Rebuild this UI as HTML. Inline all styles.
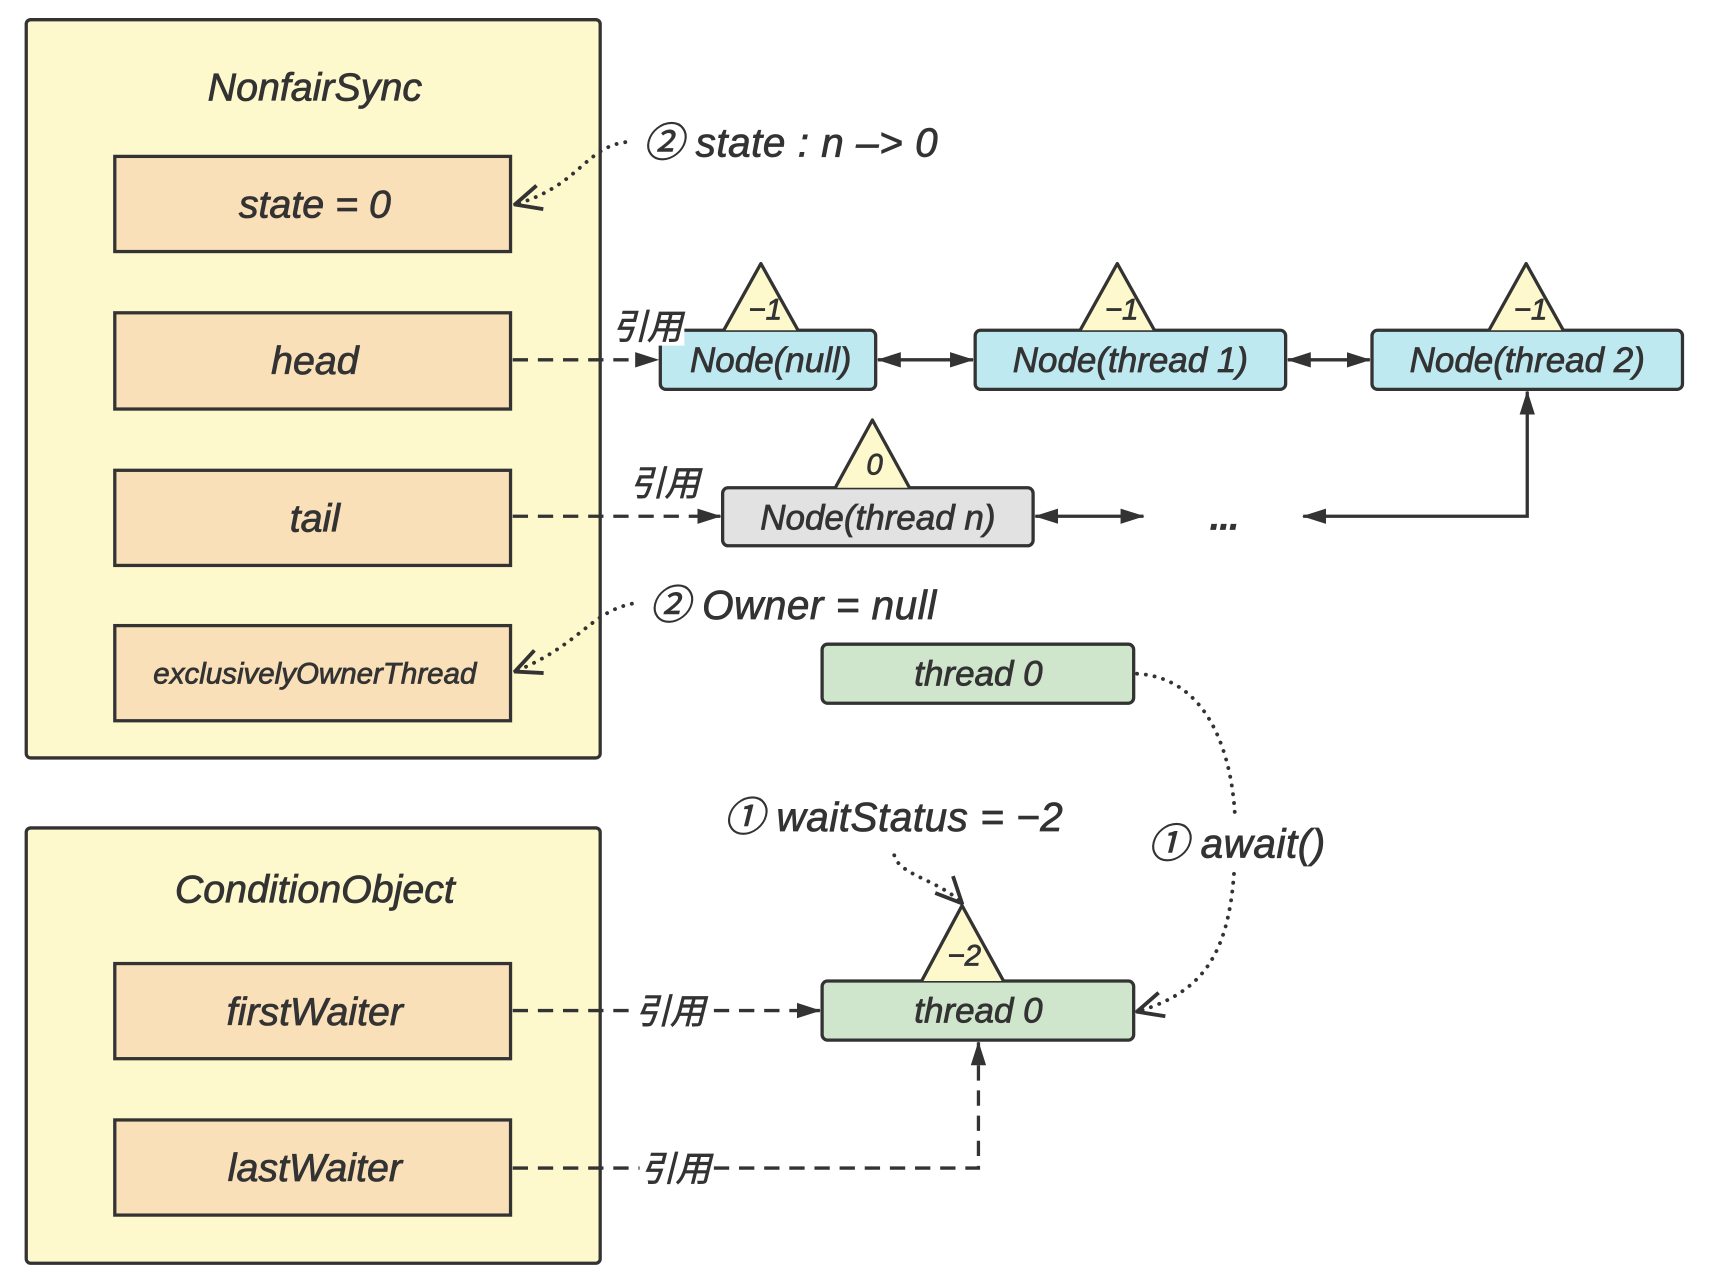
<!DOCTYPE html>
<html><head><meta charset="utf-8"><style>
html,body{margin:0;padding:0;background:#fff;}
svg{display:block;}
text{font-family:"Liberation Sans","Noto Sans CJK SC",sans-serif;font-style:italic;fill:#333;stroke:#333;stroke-width:0.7;}
</style></head><body>
<svg width="1712" height="1284" viewBox="0 0 1566 1174" preserveAspectRatio="none" xmlns="http://www.w3.org/2000/svg">
<defs>
<marker id="a" viewBox="0 0 22 16" refX="21" refY="8" markerWidth="22" markerHeight="16" orient="auto-start-reverse" markerUnits="userSpaceOnUse"><path d="M0,1 L22,8 L0,15 Z" fill="#333"/></marker>
<marker id="o" viewBox="0 0 20 20" refX="19" refY="10" markerWidth="28" markerHeight="28" orient="auto" markerUnits="userSpaceOnUse"><path d="M2,2 L19,10 L2,18" fill="none" stroke="#333" stroke-width="2.5"/></marker>
</defs>
<g stroke="#333" stroke-width="3">
<rect x="24" y="18" width="525" height="675" rx="4" fill="#fef9cc"/>
<rect x="24" y="757" width="525" height="398" rx="4" fill="#fef9cc"/>
<g fill="#fae0b8">
<rect x="105" y="143" width="362" height="87"/>
<rect x="105" y="286" width="362" height="88"/>
<rect x="105" y="430" width="362" height="87"/>
<rect x="105" y="572" width="362" height="87"/>
<rect x="105" y="881" width="362" height="87"/>
<rect x="105" y="1024" width="362" height="87"/>
</g>
<g fill="#bfe9f0">
<rect x="604" y="302" width="197" height="54" rx="5"/>
<rect x="892" y="302" width="284" height="54" rx="5"/>
<rect x="1255" y="302" width="284" height="54" rx="5"/>
</g>
<rect x="661" y="446" width="284" height="53" rx="5" fill="#e2e2e2"/>
<rect x="752" y="589" width="285" height="54" rx="5" fill="#cfe5cc"/>
<rect x="752" y="897" width="285" height="54" rx="5" fill="#cfe5cc"/>
<g fill="#fef9cc" stroke-linejoin="round">
<path d="M662,302 L696,241 L730,302"/>
<path d="M988,302 L1022,241 L1056,302"/>
<path d="M1362,302 L1396,241 L1430,302"/>
<path d="M764,446 L798,384 L832,446"/>
<path d="M843,897 L880,828 L918,897"/>
</g>
<g fill="none" stroke-dasharray="14,9">
<line x1="469" y1="329" x2="602" y2="329" marker-end="url(#a)"/>
<line x1="469" y1="472" x2="659" y2="472" marker-end="url(#a)"/>
<line x1="469" y1="924" x2="750" y2="924" marker-end="url(#a)"/>
<path d="M469,1068 L895,1068 L895,953" marker-end="url(#a)"/>
</g>
<g fill="none">
<line x1="803" y1="329" x2="890" y2="329" marker-start="url(#a)" marker-end="url(#a)"/>
<line x1="1178" y1="329" x2="1253" y2="329" marker-start="url(#a)" marker-end="url(#a)"/>
<line x1="947" y1="472" x2="1046" y2="472" marker-start="url(#a)" marker-end="url(#a)"/>
<path d="M1192,472 L1397,472 L1397,358" marker-start="url(#a)" marker-end="url(#a)"/>
</g>
<g fill="none" stroke-dasharray="0.1,8" stroke-linecap="round" stroke-width="3.5">
<path d="M572,130 C535,135 530,170 471,187" marker-end="url(#o)"/>
<path d="M578,552 C540,560 530,590 471,614" marker-end="url(#o)"/>
<path d="M818,782 C822,800 860,805 880,826" marker-end="url(#o)"/>
<path d="M1040,616 C1110,620 1130,700 1130,760 C1130,860 1110,905 1040,925" marker-end="url(#o)"/>
</g>
</g>
<rect x="560" y="280" width="66" height="36" fill="#fff"/>
<rect x="575" y="425" width="70" height="36" fill="#fff"/>
<rect x="580" y="906" width="66" height="36" fill="#fff"/>
<rect x="585" y="1050" width="66" height="36" fill="#fff"/>
<rect x="1045" y="745" width="180" height="50" fill="#fff"/>
<g text-anchor="middle" font-size="36">
<text x="288" y="92">NonfairSync</text>
<text x="288" y="199">state = 0</text>
<text x="288" y="342">head</text>
<text x="288" y="486">tail</text>
<text x="288" y="625" font-size="27">exclusivelyOwnerThread</text>
<text x="288" y="825">ConditionObject</text>
<text x="288" y="937">firstWaiter</text>
<text x="288" y="1080">lastWaiter</text>
<g font-size="32">
<text x="705" y="340">Node(null)</text>
<text x="1034" y="340">Node(thread 1)</text>
<text x="1397" y="340">Node(thread 2)</text>
<text x="803" y="484">Node(thread n)</text>
<text x="895" y="627">thread 0</text>
<text x="895" y="935">thread 0</text>
</g>
<g font-size="27">
<text x="700" y="292">−1</text>
<text x="1026" y="292">−1</text>
<text x="1400" y="292">−1</text>
<text x="800" y="434">0</text>
<text x="882" y="883">−2</text>
</g>
<text x="1120" y="484" font-size="32" font-weight="bold">...</text>
</g>
<g font-size="32">
<text x="560" y="310">引用</text>
<text x="576" y="453">引用</text>
<text x="581" y="936">引用</text>
<text x="586" y="1080">引用</text>
</g>
<g font-size="37" letter-spacing="0.5">
<text x="588" y="143">② state : n –&gt; 0</text>
<text x="594" y="566">② Owner = null</text>
<text x="662" y="760">① waitStatus = −2</text>
<text x="1050" y="784">① await()</text>
</g>
</svg>
</body></html>
